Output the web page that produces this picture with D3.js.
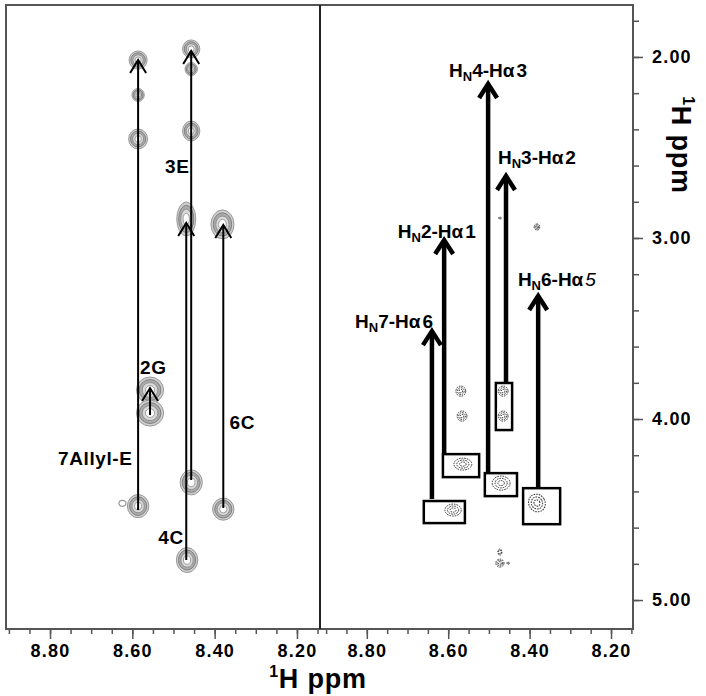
<!DOCTYPE html>
<html>
<head>
<meta charset="utf-8">
<script src="https://cdn.jsdelivr.net/npm/d3@7"></script>
<style>
body { margin: 0; background: #fff; }
svg { display: block; font-family: "Liberation Sans", Arial, sans-serif; }
</style>
</head>
<body>
<div id="viz"></div>
<script>
// left panel cross peaks: HN shift, H shift, half widths (ppm)
var leftHN = [8.586, 8.586, 8.586, 8.457, 8.457, 8.457, 8.469, 8.381, 8.557, 8.557, 8.586, 8.457, 8.379, 8.467];
var leftH  = [2.017, 2.210, 2.453, 1.956, 2.067, 2.409, 2.895, 2.925, 3.840, 3.967, 4.481, 4.350, 4.498, 4.779];
var leftWx = [0.022, 0.015, 0.023, 0.021, 0.015, 0.021, 0.023, 0.028, 0.033, 0.033, 0.026, 0.027, 0.026, 0.026];
var leftWy = [0.050, 0.036, 0.055, 0.050, 0.036, 0.055, 0.094, 0.080, 0.072, 0.072, 0.064, 0.069, 0.061, 0.069];

// left panel spin-system arrows (from H shift to H shift)
var leftArrowHN   = [8.586, 8.457, 8.469, 8.379, 8.557];
var leftArrowFrom = [4.503, 4.337, 4.779, 4.492, 3.978];
var leftArrowTo   = [2.017, 1.967, 2.917, 2.928, 3.829];

var leftLabels   = ["3E", "2G", "6C", "7Allyl-E", "4C"];
var leftLabelHN  = [8.491, 8.549, 8.333, 8.690, 8.506];
var leftLabelH   = [2.602, 3.713, 4.017, 4.216, 4.652];

// right panel NOESY peaks
var rightHN = [8.569, 8.566, 8.465, 8.465, 8.564, 8.470, 8.588, 8.382, 8.473, 8.473, 8.453, 8.473, 8.382];
var rightH  = [3.846, 3.984, 3.846, 3.984, 4.249, 4.354, 4.503, 4.464, 4.735, 4.796, 4.796, 2.890, 2.939];
var rightWx = [0.012, 0.012, 0.012, 0.012, 0.022, 0.022, 0.020, 0.020, 0.005, 0.010, 0.003, 0.003, 0.007];
var rightWy = [0.028, 0.028, 0.028, 0.028, 0.033, 0.039, 0.033, 0.050, 0.017, 0.022, 0.006, 0.006, 0.017];

// sequential HN(i)-Ha(i-1) arrows
var seqNames = [["4", "3"], ["3", "2"], ["2", "1"], ["6", "5"], ["7", "6"]];
var seqHN    = [8.502, 8.458, 8.610, 8.379, 8.640];
var seqFrom  = [4.293, 3.796, 4.188, 4.381, 4.442];
var seqTo    = [2.144, 2.652, 3.006, 3.315, 3.509];
var seqLabelHN = [8.502, 8.382, 8.628, 8.333, 8.733];
var seqLabelH  = [2.072, 2.553, 2.962, 3.227, 3.462];

// boxes around the HN-Ha peaks
var boxHN1 = [8.660, 8.613, 8.510, 8.416, 8.483];
var boxHN2 = [8.559, 8.524, 8.431, 8.325, 8.443];
var boxH1  = [4.453, 4.194, 4.299, 4.382, 3.801];
var boxH2  = [4.575, 4.321, 4.426, 4.581, 4.061];

var xTicksMajor = [8.8, 8.6, 8.4, 8.2];
var xTicksMinor = d3.range(8.15, 8.91, 0.05);
var yTicksMajor = [2, 3, 4, 5];
var yTicksMinor = d3.range(1.8, 5.01, 0.2);

var width = 706, height = 696;
var plotTop = 5, plotBottom = 629;

var svg = d3.select("#viz").append("svg").attr("width", width).attr("height", height);

var xLeft = d3.scaleLinear().domain([8.907, 8.144]).range([6, 320]);
var xRight = d3.scaleLinear().domain([8.915, 8.146]).range([320, 633]);
var y = d3.scaleLinear().domain([1.713, 5.16]).range([plotTop, plotBottom]);

// peaks
var gl = svg.append("g");
leftHN.forEach(function (hn, i) {
    var cx = xLeft(hn), cy = y(leftH[i]);
    var rx = xLeft(8.5) - xLeft(8.5 + leftWx[i]);
    var ry = y(2 + leftWy[i]) - y(2);
    var rings = [[1, "#cfcfcf", "#999"], [0.8, "#ababab", "#808080"], [0.58, "#d9d9d9", "#8f8f8f"], [0.34, "#fff", "#a0a0a0"]];
    rings.forEach(function (r) {
        gl.append("ellipse")
            .attr("cx", cx).attr("cy", cy)
            .attr("rx", rx * r[0]).attr("ry", ry * r[0])
            .style("fill", r[1])
            .attr("stroke", r[2])
            .attr("stroke-width", 1);
    });
});
// small loop on the allyl peak
gl.append("ellipse")
    .attr("cx", xLeft(8.624)).attr("cy", y(4.466))
    .attr("rx", 3.5).attr("ry", 3)
    .style("fill", "#fff").attr("stroke", "#999").attr("stroke-width", 1.2);

var gr = svg.append("g");
rightHN.forEach(function (hn, i) {
    var cx = xRight(hn), cy = y(rightH[i]);
    var rx = xRight(8.5) - xRight(8.5 + rightWx[i]);
    var ry = y(2 + rightWy[i]) - y(2);
    [1, 0.68, 0.36].forEach(function (k) {
        if (rx * k < 1) return;
        gr.append("ellipse")
            .attr("cx", cx).attr("cy", cy)
            .attr("rx", rx * k).attr("ry", ry * k)
            .attr("transform", i === 7 ? "rotate(-30," + cx + "," + cy + ")" : null)
            .style("fill", "none")
            .attr("stroke", "#333")
            .attr("stroke-width", 1)
            .attr("stroke-dasharray", "1.6,1");
    });
    if (rx < 1.5) {
        gr.append("circle").attr("cx", cx).attr("cy", cy).attr("r", 1.2).style("fill", "#888");
    }
});

// boxes
boxHN1.forEach(function (b, i) {
    svg.append("rect")
        .attr("x", xRight(b)).attr("y", y(boxH1[i]))
        .attr("width", xRight(boxHN2[i]) - xRight(b))
        .attr("height", y(boxH2[i]) - y(boxH1[i]))
        .style("fill", "none")
        .attr("stroke", "#000")
        .attr("stroke-width", 2.5);
});

function arrow(g, x, y0, y1, w, h, sw) {
    g.append("line")
        .attr("x1", x).attr("x2", x)
        .attr("y1", y0).attr("y2", y1 + sw / 2)
        .attr("stroke", "#000").attr("stroke-width", sw);
    g.append("polyline")
        .attr("points", [[x - w / 2, y1 + h], [x, y1], [x + w / 2, y1 + h]].map(function (p) { return p.join(","); }).join(" "))
        .style("fill", "none")
        .attr("stroke", "#000")
        .attr("stroke-width", sw)
        .attr("stroke-linejoin", "miter");
}

var ga = svg.append("g");
leftArrowHN.forEach(function (hn, i) {
    arrow(ga, xLeft(hn), y(leftArrowFrom[i]), y(leftArrowTo[i]), 16, 13, 2);
});
seqHN.forEach(function (hn, i) {
    arrow(ga, xRight(hn), y(seqFrom[i]), y(seqTo[i]) + 1, 18, 14, 4.5);
});

// labels
leftLabels.forEach(function (t, i) {
    svg.append("text")
        .attr("x", xLeft(leftLabelHN[i])).attr("y", y(leftLabelH[i]))
        .attr("dy", "0.36em")
        .attr("text-anchor", "middle")
        .attr("font-size", 19).attr("font-weight", "bold")
        .attr("letter-spacing", 0.6)
        .text(t);
});
seqNames.forEach(function (n, i) {
    var t = svg.append("text")
        .attr("x", xRight(seqLabelHN[i])).attr("y", y(seqLabelH[i]))
        .attr("dy", "0.36em")
        .attr("text-anchor", "middle")
        .attr("font-size", 19).attr("font-weight", "bold");
    t.append("tspan").text("H");
    t.append("tspan").attr("font-size", 13).attr("dy", 4).text("N");
    t.append("tspan").attr("dy", -4).text(n[0] + "-H\u03b1");
    t.append("tspan").attr("dx", 2)
        .attr("font-style", i === 3 ? "italic" : null)
        .attr("font-weight", i === 3 ? "normal" : null)
        .text(n[1]);
});

// frame
svg.append("rect").attr("x", 6).attr("y", plotTop).attr("width", 627).attr("height", plotBottom - plotTop)
    .style("fill", "none").attr("stroke", "#555").attr("stroke-width", 2);
svg.append("line").attr("x1", 320).attr("x2", 320).attr("y1", plotTop).attr("y2", plotBottom)
    .attr("stroke", "#222").attr("stroke-width", 2);

// axes
function styleAxis(g) {
    g.select(".domain").remove();
    g.selectAll("line").attr("stroke", "#555").attr("stroke-width", 1.5);
    g.selectAll("text").attr("font-size", 18).attr("font-weight", "bold").attr("fill", "#000")
        .attr("letter-spacing", 1.2)
        .attr("font-family", "Liberation Sans, Arial, sans-serif");
}
[xLeft, xRight].forEach(function (sc) {
    svg.append("g").attr("transform", "translate(0," + plotBottom + ")")
        .call(d3.axisBottom(sc).tickValues(xTicksMinor).tickSize(5).tickFormat(""))
        .call(styleAxis);
    svg.append("g").attr("transform", "translate(0," + plotBottom + ")")
        .call(d3.axisBottom(sc).tickValues(xTicksMajor).tickSize(10).tickPadding(5).tickFormat(d3.format(".2f")))
        .call(styleAxis);
});
svg.append("g").attr("transform", "translate(633,0)")
    .call(d3.axisRight(y).tickValues(yTicksMinor).tickSize(6).tickFormat(""))
    .call(styleAxis);
svg.append("g").attr("transform", "translate(633,0)")
    .call(d3.axisRight(y).tickValues(yTicksMajor).tickSize(10).tickPadding(9).tickFormat(d3.format(".2f")))
    .call(styleAxis);

// axis titles
var xt = svg.append("text").attr("x", 318).attr("y", 688).attr("text-anchor", "middle")
    .attr("font-size", 27).attr("font-weight", "bold").attr("letter-spacing", 0.8);
xt.append("tspan").attr("font-size", 16).attr("dy", -11).text("1");
xt.append("tspan").attr("dy", 11).text("H ppm");

var yt = svg.append("text").attr("transform", "translate(672,145) rotate(90)").attr("text-anchor", "middle")
    .attr("font-size", 27).attr("font-weight", "bold").attr("letter-spacing", 0.8);
yt.append("tspan").attr("font-size", 16).attr("dy", -11).text("1");
yt.append("tspan").attr("dy", 11).text("H ppm");
</script>
</body>
</html>
